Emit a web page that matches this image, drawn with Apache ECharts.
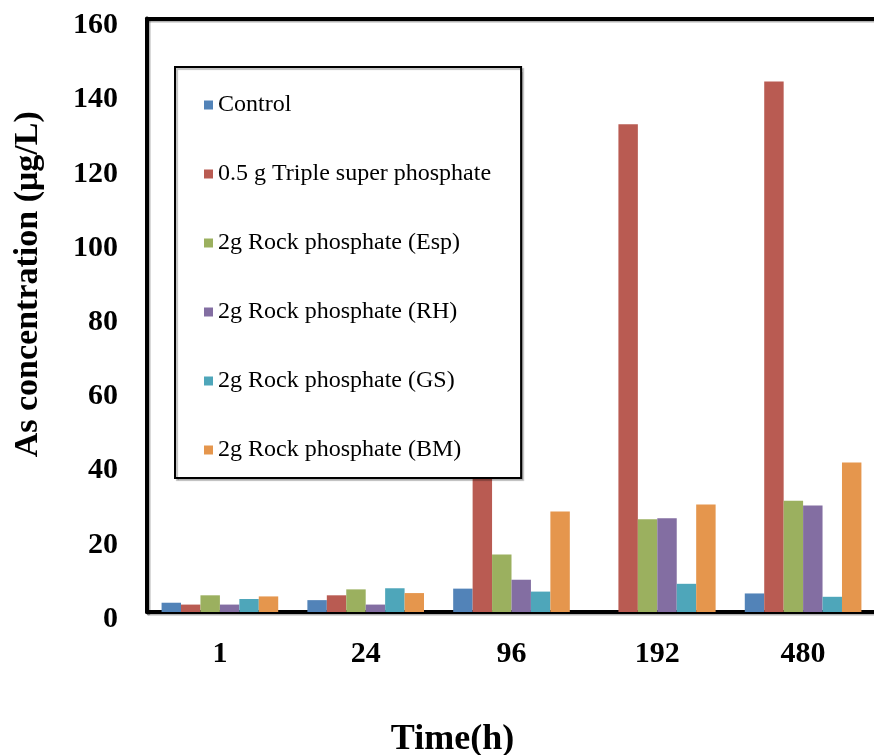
<!DOCTYPE html>
<html>
<head>
<meta charset="utf-8">
<script src="https://cdn.jsdelivr.net/npm/echarts@6/dist/echarts.min.js"></script>
<style>
  html, body { margin: 0; padding: 0; background: #fff; }
  #main { width: 874px; height: 755px; }
</style>
</head>
<body>
<div id="main"></div>
<script>
// time points (h)
var categories = ['1', '24', '96', '192', '480']
var seriesNames = [
    'Control',
    '0.5 g Triple super phosphate',
    '2g Rock phosphate (Esp)',
    '2g Rock phosphate (RH)',
    '2g Rock phosphate (GS)',
    '2g Rock phosphate (BM)'
]
// As concentration, ug/L
var control = [2.5, 3.2, 6.3, 0, 5.0]
var tsp = [2.0, 4.5, 66.5, 131.5, 143.0]
var rpEsp = [4.5, 6.1, 15.5, 25.0, 30.0]
var rpRH = [2.0, 2.0, 8.7, 25.3, 28.7]
var rpGS = [3.5, 6.4, 5.5, 7.6, 4.1]
var rpBM = [4.2, 5.1, 27.1, 29.0, 40.3]
var yTicks = [0, 20, 40, 60, 80, 100, 120, 140, 160]

var colors = ['#5283B8', '#B95B52', '#9BB05F', '#836EA2', '#4EA6BA', '#E5964D']
var values = [control, tsp, rpEsp, rpRH, rpGS, rpBM]
var font = '"Liberation Serif", "Times New Roman", serif'

var myChart = echarts.init(document.getElementById('main'))

var series = []
for (var i = 0; i < seriesNames.length; i++) {
    series.push({
        name: seriesNames[i],
        type: 'bar',
        data: values[i],
        barGap: '0%',
        barCategoryGap: '20%',
        itemStyle: { color: colors[i] }
    })
}

// black frame line with a light grey shadow, like the original
var frameLine = {
    color: '#000',
    width: 4,
    shadowColor: 'rgba(0,0,0,0.3)',
    shadowOffsetX: 1.5,
    shadowOffsetY: 1.5
}

var option = {
    animation: false,
    textStyle: { fontFamily: font },
    grid: {
        left: 147,
        top: 18.5,
        width: 729,
        height: 593.5,
        containLabel: false,
        outerBoundsMode: 'none'
    },
    legend: {
        orient: 'vertical',
        left: 175,
        top: 67,
        data: seriesNames,
        icon: 'rect',
        itemWidth: 9,
        itemHeight: 9,
        itemGap: 45,
        padding: [26, 30, 16, 29],
        borderColor: '#000',
        borderWidth: 2,
        backgroundColor: '#fff',
        shadowColor: 'rgba(0,0,0,0.25)',
        shadowOffsetX: 2,
        shadowOffsetY: 2,
        shadowBlur: 1,
        textStyle: {
            fontFamily: font,
            fontSize: 24,
            lineHeight: 24,
            color: '#000'
        }
    },
    xAxis: [{
        type: 'category',
        data: categories,
        name: 'Time(h)',
        nameLocation: 'middle',
        nameGap: 110,
        nameTextStyle: {
            fontFamily: font, fontSize: 36, fontWeight: 'bold', color: '#000',
            padding: [0, 118, 0, 0]
        },
        axisLine: { lineStyle: frameLine },
        axisTick: { show: false },
        axisLabel: { fontFamily: font, fontSize: 30, fontWeight: 'bold', color: '#000', margin: 27 }
    }, {
        // top border of the plot
        type: 'category',
        data: categories,
        position: 'top',
        axisLine: { lineStyle: frameLine },
        axisTick: { show: false },
        axisLabel: { show: false }
    }],
    yAxis: {
        type: 'value',
        min: 0,
        max: 160,
        interval: 20,
        name: 'As concentration (μg/L)',
        nameLocation: 'middle',
        nameGap: 102,
        nameTextStyle: {
            fontFamily: font, fontSize: 34, fontWeight: 'bold', color: '#000',
            padding: [0, 0, 0, 62]
        },
        axisLine: { show: true, lineStyle: frameLine },
        axisTick: { show: false },
        splitLine: { show: false },
        axisLabel: {
            fontFamily: font, fontSize: 30, fontWeight: 'bold', color: '#000', margin: 29,
            verticalAlign: 'top',
            lineHeight: 14,
            formatter: function (v) { return yTicks.indexOf(v) >= 0 ? String(v) : '' }
        }
    },
    series: series
}

myChart.setOption(option)
</script>
</body>
</html>
